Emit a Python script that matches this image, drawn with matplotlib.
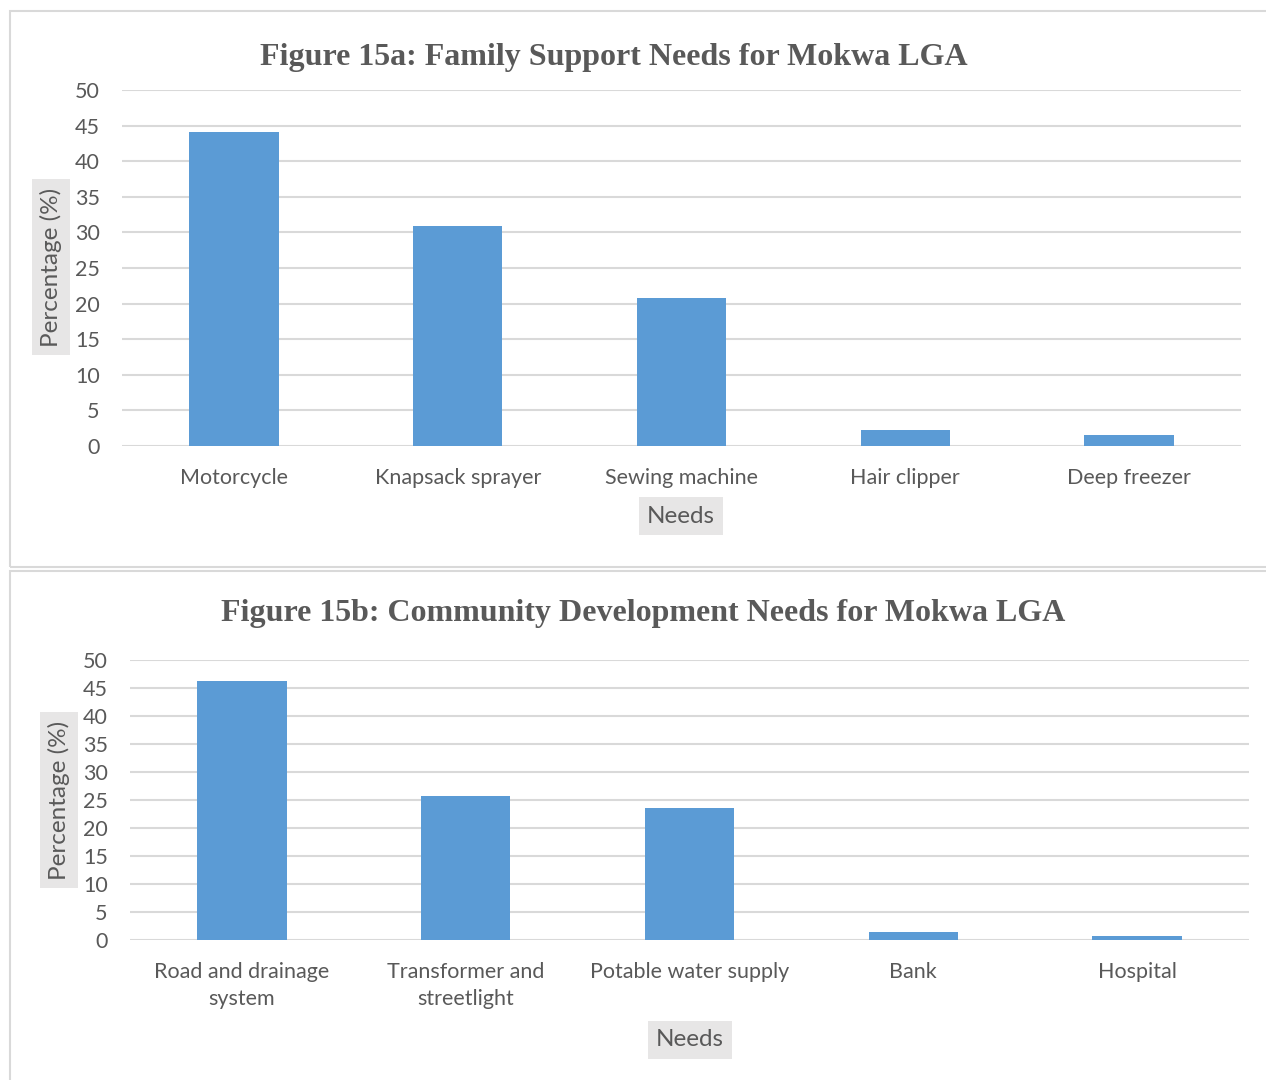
import matplotlib.pyplot as plt
from matplotlib.patches import Rectangle

W, H = 1266, 1080

# Figure 15a data
family_needs = ["Motorcycle", "Knapsack sprayer", "Sewing machine", "Hair clipper", "Deep freezer"]
family_pct = [44.1, 30.9, 20.8, 2.2, 1.5]

# Figure 15b data
community_needs = ["Road and drainage\nsystem", "Transformer and\nstreetlight", "Potable water supply", "Bank", "Hospital"]
community_pct = [46.3, 25.8, 23.5, 1.5, 0.8]

BAR = "#5b9bd5"
GRID = "#d9d9d9"
TXT = "#595959"
SANS = ["Lato", "DejaVu Sans"]
SERIF = ["Liberation Serif", "DejaVu Serif"]

fig = plt.figure(figsize=(W / 100, H / 100), dpi=100)


def px_axes(x0, y0, x1, y1):
    # pixel box (top-left origin) -> figure fraction
    return fig.add_axes([x0 / W, 1 - y1 / H, (x1 - x0) / W, (y1 - y0) / H])


# chart area borders
fig.patches.append(Rectangle((10 / W, 1 - 567 / H), 1266 / W, 556 / H, transform=fig.transFigure,
                             fill=False, edgecolor=GRID, lw=1.5))
fig.patches.append(Rectangle((10 / W, 1 - 1090 / H), 1266 / W, 519 / H, transform=fig.transFigure,
                             fill=False, edgecolor=GRID, lw=1.5))


def draw(ax, cats, vals, title, title_y, ylab_xy, xlab_xy):
    ax.bar(range(len(cats)), vals, width=0.4, color=BAR, zorder=3)
    ax.set_xlim(-0.5, len(cats) - 0.5)
    ax.set_ylim(0, 50)
    ax.set_yticks(range(0, 51, 5))
    ax.set_xticks(range(len(cats)))
    ax.set_xticklabels(cats, fontsize=15.5, color=TXT, family=SANS, linespacing=1.45)
    for t in ax.get_yticklabels():
        t.set_fontsize(15.5)
        t.set_color(TXT)
        t.set_family(SANS)
    ax.tick_params(length=0)
    ax.tick_params(axis="y", pad=16)
    ax.tick_params(axis="x", pad=16)
    ax.grid(axis="y", color=GRID, lw=1.5, zorder=0)
    for s in ax.spines.values():
        s.set_visible(False)
    fig.text(title_y[0] / W, 1 - title_y[1] / H, title, ha="center", va="center",
             fontsize=23, fontweight="bold", family=SERIF, color=TXT)
    fig.text(ylab_xy[0] / W, 1 - ylab_xy[1] / H, "Percentage (%)", rotation=90, ha="center", va="center",
             fontsize=17.5, color=TXT, family=SANS,
             bbox=dict(facecolor="#e7e6e6", edgecolor="none", pad=6))
    fig.text(xlab_xy[0] / W, 1 - xlab_xy[1] / H, "Needs", ha="center", va="center",
             fontsize=17.5, color=TXT, family=SANS,
             bbox=dict(facecolor="#e7e6e6", edgecolor="none", pad=6))


ax1 = px_axes(122, 90, 1241, 446)
draw(ax1, family_needs, family_pct, "Figure 15a: Family Support Needs for Mokwa LGA",
     (614, 58), (51, 267), (681, 516))

ax2 = px_axes(130, 660, 1249, 940)
draw(ax2, community_needs, community_pct, "Figure 15b: Community Development Needs for Mokwa LGA",
     (643, 613), (59, 800), (690, 1040))

fig.savefig("out.png", dpi=100)
